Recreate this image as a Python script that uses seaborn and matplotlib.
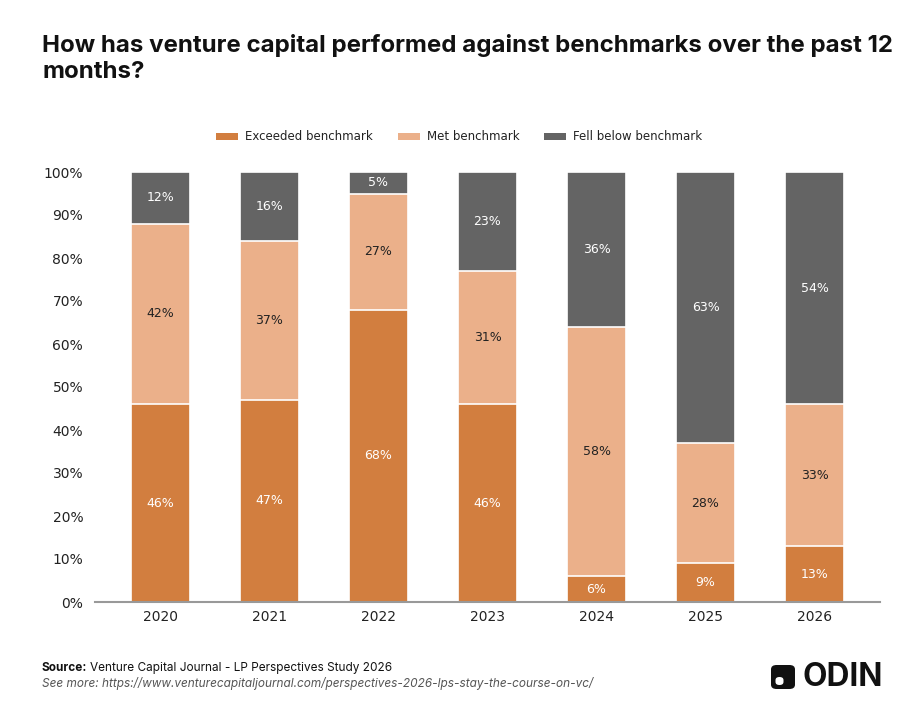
import matplotlib
matplotlib.use("Agg")
import matplotlib.pyplot as plt
import seaborn as sns
import pandas as pd
import numpy as np
from matplotlib.patches import FancyBboxPatch, Patch

years = ["2020", "2021", "2022", "2023", "2024", "2025", "2026"]
exceeded = [46, 47, 68, 46, 6, 9, 13]
met = [42, 37, 27, 31, 58, 28, 33]
fell = [12, 16, 5, 23, 36, 63, 54]

series_names = ["Exceeded benchmark", "Met benchmark", "Fell below benchmark"]
colors = ["#D27E3F", "#EBB08A", "#646464"]
label_colors = ["white", "#222222", "white"]

sns.set_theme(style="white")
plt.rcParams["font.family"] = ["DejaVu Sans"]

fig = plt.figure(figsize=(9.24, 7.21), dpi=100)
ax = fig.add_axes([95/924, 1-602/721, (880-95)/924, (602-172)/721])

df = pd.DataFrame({"year": years, "exceeded": exceeded, "met": met, "fell": fell})
df["cum_met"] = df["exceeded"] + df["met"]
df["cum_fell"] = df["cum_met"] + df["fell"]

for col, c in [("cum_fell", colors[2]), ("cum_met", colors[1]), ("exceeded", colors[0])]:
    sns.barplot(data=df, x="year", y=col, color=c, saturation=1, width=0.54,
                edgecolor="white", linewidth=1.2, ax=ax, errorbar=None)

for i in range(len(years)):
    bottoms = [0, exceeded[i], exceeded[i] + met[i]]
    vals = [exceeded[i], met[i], fell[i]]
    for b, v, lc in zip(bottoms, vals, label_colors):
        ax.text(i, b + v / 2, f"{v}%", ha="center", va="center", color=lc,
                fontsize=9, family="DejaVu Sans")

ax.set_xlim(-0.6, 6.6)
ax.set_ylim(0, 100)
ax.set_yticks(range(0, 101, 10))
ax.set_yticklabels([f"{t}%" for t in range(0, 101, 10)], fontsize=10, color="#222222",
                   family="DejaVu Sans")
for lab in ax.get_xticklabels():
    lab.set_family("DejaVu Sans")
ax.tick_params(axis="x", labelsize=10, colors="#222222", length=0, pad=6)
ax.tick_params(axis="y", length=0, pad=8.5)
ax.set_xlabel("")
ax.set_ylabel("")
for s in ["top", "right", "left"]:
    ax.spines[s].set_visible(False)
ax.spines["bottom"].set_color("#999999")
ax.spines["bottom"].set_linewidth(1.5)

handles = [Patch(facecolor=c, edgecolor="none") for c in colors]
fig.legend(handles, series_names, loc="center", bbox_to_anchor=(459.5/924, 1-137/721),
           ncol=3, frameon=False, prop={"family": "DejaVu Sans", "size": 8.5},
           handlelength=1.86, handleheight=0.6,
           columnspacing=2.1, handletextpad=0.6, labelcolor="#222222")

fig.text(42/924, 1-58.5/721, "How has venture capital performed against benchmarks over the past 12\nmonths?",
         ha="left", va="center", fontsize=17.3, fontweight="bold", family=["Inter"],
         color="#111111", linespacing=1.28)

fig.text(42/924, 1-668/721, "Source:", ha="left", va="center", fontsize=8.5,
         fontweight="bold", family=["Inter"], color="#111111")
fig.text(90/924, 1-668/721, "Venture Capital Journal - LP Perspectives Study 2026", ha="left",
         va="center", fontsize=8.5, family=["Inter"], color="#111111")
fig.text(42/924, 1-684/721,
         "See more: https://www.venturecapitaljournal.com/perspectives-2026-lps-stay-the-course-on-vc/",
         ha="left", va="center", fontsize=8.5, style="italic", family=["Inter"], color="#555555")

logo = FancyBboxPatch((771/924, 1-689/721), 24/924, 24/721,
                      boxstyle="round,pad=0,rounding_size=0.006", transform=fig.transFigure,
                      facecolor="#111111", edgecolor="none")
fig.patches.append(logo)
dot = FancyBboxPatch((775.5/924, 1-685/721), 8/924, 8/721,
                     boxstyle="round,pad=0,rounding_size=0.0043", transform=fig.transFigure,
                     facecolor="white", edgecolor="none")
fig.patches.append(dot)
fig.text(802/924, 1-677/721, "ODIN", ha="left", va="center", fontsize=22.8,
         fontweight="bold", family=["Inter"], color="#111111")

fig.savefig("out.png", dpi=100, facecolor="white")
